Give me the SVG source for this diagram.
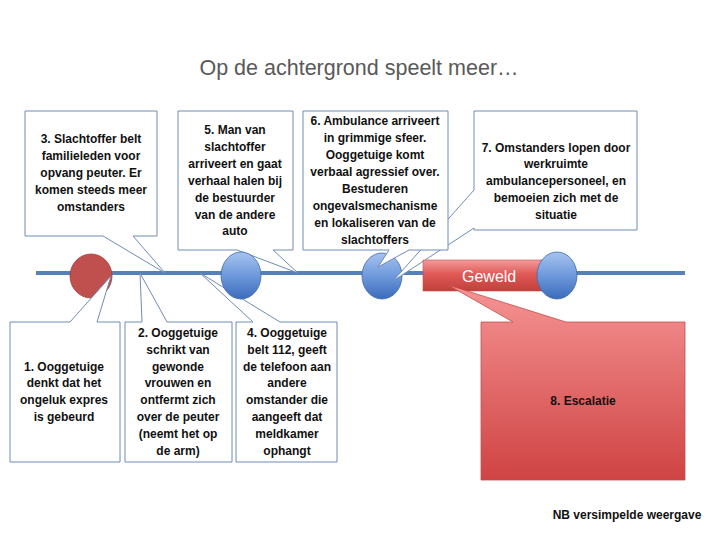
<svg xmlns="http://www.w3.org/2000/svg" width="720" height="540" viewBox="0 0 720 540">
<defs>
<linearGradient id="blueG" x1="0" y1="0" x2="0" y2="1">
<stop offset="0" stop-color="#A6C3EE"/><stop offset="0.5" stop-color="#6E99DC"/><stop offset="1" stop-color="#3B6BBA"/>
</linearGradient>
<linearGradient id="barG" x1="0" y1="0" x2="0" y2="1">
<stop offset="0" stop-color="#F29C9A"/><stop offset="0.45" stop-color="#E05A57"/><stop offset="1" stop-color="#C23F3C"/>
</linearGradient>
<linearGradient id="boxG" x1="0" y1="0" x2="0" y2="1">
<stop offset="0" stop-color="#F69494"/><stop offset="1" stop-color="#CF4343"/>
</linearGradient>
<style>
.call{fill:#FFFFFF;stroke:#6F8CB5;stroke-width:1}
.t{font-family:"Liberation Sans",Arial,sans-serif;font-size:12px;font-weight:bold;fill:#111111;text-anchor:middle}
.blue{fill:url(#blueG);stroke:#3D69AC;stroke-width:0.8}
</style>
</defs>
<rect width="720" height="540" fill="#FFFFFF"/>
<text x="359" y="75" font-family="Liberation Sans, Arial, sans-serif" font-size="21.5" fill="#595959" text-anchor="middle">Op de achtergrond speelt meer…</text>

<g id="connectors">
<line x1="36" y1="273" x2="685" y2="273" stroke="#5580BA" stroke-width="4"/>
</g>

<g id="n4">
<path class="call" d="M236,322 H253 L200,273 L280,322 H337 V462 H236 Z"/>
<text class="t"><tspan x="287" y="337">4. Ooggetuige</tspan><tspan x="287" y="354">belt 112, geeft</tspan><tspan x="287" y="371">de telefoon aan</tspan><tspan x="287" y="387">andere</tspan><tspan x="287" y="404">omstander die</tspan><tspan x="287" y="421">aangeeft dat</tspan><tspan x="287" y="438">meldkamer</tspan><tspan x="287" y="455">ophangt</tspan></text>
</g>
<g id="n5">
<path class="call" d="M178,111 H293 V250 H273 L298,273 L237,250 H178 Z"/>
<text class="t"><tspan x="235" y="134">5. Man van</tspan><tspan x="235" y="151">slachtoffer</tspan><tspan x="235" y="168">arriveert en gaat</tspan><tspan x="235" y="185">verhaal halen bij</tspan><tspan x="235" y="202">de bestuurder</tspan><tspan x="235" y="219">van de andere</tspan><tspan x="235" y="235">auto</tspan></text>
</g>
<g id="c1"><ellipse class="blue" cx="241" cy="275.5" rx="20" ry="23.5"/></g>
<g id="c0"><ellipse cx="91" cy="276" rx="21" ry="22" fill="#C0504D" stroke="#A13F3C" stroke-width="0.8"/></g>

<g id="n1">
<path class="call" d="M10,322 H70 L111,276 L97,322 H120 V462 H10 Z"/>
<text class="t"><tspan x="64" y="371">1. Ooggetuige</tspan><tspan x="64" y="387">denkt dat het</tspan><tspan x="64" y="404">ongeluk expres</tspan><tspan x="64" y="421">is gebeurd</tspan></text>
</g>
<g id="n2">
<path class="call" d="M125,322 H142 L140,273 L167,322 H232 V462 H125 Z"/>
<text class="t"><tspan x="178" y="337">2. Ooggetuige</tspan><tspan x="178" y="354">schrikt van</tspan><tspan x="178" y="371">gewonde</tspan><tspan x="178" y="387">vrouwen en</tspan><tspan x="178" y="404">ontfermt zich</tspan><tspan x="178" y="421">over de peuter</tspan><tspan x="178" y="438">(neemt het op</tspan><tspan x="178" y="455">de arm)</tspan></text>
</g>
<g id="n3">
<path class="call" d="M25,111 H157 V236 H133 L165,273 L103,236 H25 Z"/>
<text class="t"><tspan x="91" y="143">3. Slachtoffer belt</tspan><tspan x="91" y="160">familieleden voor</tspan><tspan x="91" y="177">opvang peuter. Er</tspan><tspan x="91" y="194">komen steeds meer</tspan><tspan x="91" y="211">omstanders</tspan></text>
</g>

<g id="c2"><ellipse class="blue" cx="382" cy="276" rx="20" ry="23"/></g>

<g id="n7">
<path class="call" d="M474,111 H637 V230 H474 V228 L393,281 L474,190 Z"/>
<text class="t"><tspan x="556" y="152">7. Omstanders lopen door</tspan><tspan x="556" y="168">werkruimte</tspan><tspan x="556" y="185">ambulancepersoneel, en</tspan><tspan x="556" y="202">bemoeien zich met de</tspan><tspan x="556" y="219">situatie</tspan></text>
</g>
<g id="n6">
<path class="call" d="M303,111 H448 V250 H409 L378,267 L389,250 H303 Z"/>
<text class="t"><tspan x="375" y="125">6. Ambulance arriveert</tspan><tspan x="375" y="142">in grimmige sfeer.</tspan><tspan x="375" y="159">Ooggetuige komt</tspan><tspan x="375" y="176">verbaal agressief over.</tspan><tspan x="375" y="193">Bestuderen</tspan><tspan x="375" y="210">ongevalsmechanisme</tspan><tspan x="375" y="227">en lokaliseren van de</tspan><tspan x="375" y="244">slachtoffers</tspan></text>
</g>

<g id="geweld">
<rect x="423" y="260" width="124" height="31" fill="url(#barG)" stroke="#C0504D" stroke-width="0.6"/>
<text x="462" y="282" font-family="Liberation Sans, Arial, sans-serif" font-size="16" fill="#FFFFFF">Geweld</text>
</g>
<g id="c3"><ellipse class="blue" cx="557" cy="275.5" rx="20" ry="23.5"/></g>

<g id="n8">
<path d="M481,322 H513 L448,285 L566,322 H685 V480 H481 Z" fill="url(#boxG)" stroke="#C0504D" stroke-width="0.8"/>
<text class="t" x="583" y="405">8. Escalatie</text>
</g>

<text class="t" x="627" y="519">NB versimpelde weergave</text>
</svg>
